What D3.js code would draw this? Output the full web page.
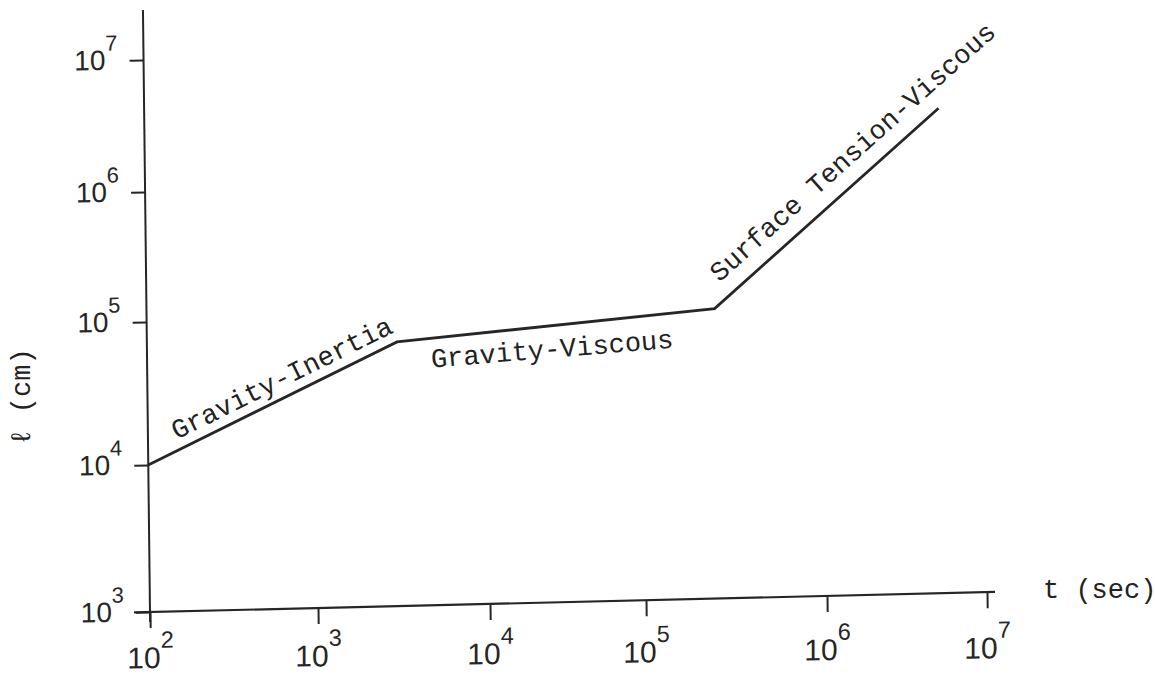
<!DOCTYPE html>
<html>
<head>
<meta charset="utf-8">
<script src="https://cdn.jsdelivr.net/npm/d3@7"></script>
<style>
    html, body { margin: 0; padding: 0; background: #fff; }
    .typed { font-family: 'Liberation Mono', 'DejaVu Sans Mono', monospace; fill: #222; }
</style>
</head>
<body>
<div id="container"></div>
<script>
// regime boundaries of the spreading curve, l(t)
const times = [1e2, 3e3, 2.5e5, 5.4e6];
const lengths = [1e4, 6.6e4, 1.0e5, 3.1e6];
const regimes = ['Gravity-Inertia', 'Gravity-Viscous', 'Surface Tension-Viscous'];

const tTicks = [1e2, 1e3, 1e4, 1e5, 1e6, 1e7];
const lTicks = [1e3, 1e4, 1e5, 1e6, 1e7];
const tTitle = 't (sec)';
const lTitle = 'ℓ (cm)';

const width = 1155;
const height = 677;

// decades are hand drawn and not evenly spaced, so the log scales are piecewise
const x = d3.scaleLog().domain(tTicks).range([150, 318, 490, 646, 827, 987]);
const y = d3.scaleLog().domain(lTicks).range([612, 465, 322, 192, 60]);

// the scanned sheet is a little sheared
const SKEW_X = 0.0117;
const SKEW_Y = -0.0237;
const ox = x(tTicks[0]);
const oy = y(lTicks[0]);
const toPx = p => [p[0] + SKEW_X * (p[1] - oy), p[1] + SKEW_Y * (p[0] - ox)];

const ink = '#262626';

let svg = d3.select('#container').append('svg')
    .attr('width', width)
    .attr('height', height)
    .attr('viewBox', `0 0 ${width} ${height}`);

svg.append('rect').attr('width', width).attr('height', height).attr('fill', '#fff');

let plot = svg.append('g')
    .attr('transform', `matrix(1,${SKEW_Y},${SKEW_X},1,${-oy * SKEW_X},${-ox * SKEW_Y})`);

function powerLabel(sel, size) {
    sel.each(function(d) {
        let t = d3.select(this).text('');
        t.append('tspan').text('10');
        t.append('tspan')
            .attr('font-size', size * 0.78)
            .attr('dy', -size * 0.68)
            .text(Math.round(Math.log10(d)));
    });
}

// axis lines
plot.append('line')
    .attr('x1', ox).attr('x2', ox)
    .attr('y1', oy + 10).attr('y2', y(1e7) - 50)
    .attr('stroke', ink).attr('stroke-width', 2);
plot.append('line')
    .attr('x1', ox - 16).attr('x2', x(1e7) + 8)
    .attr('y1', oy).attr('y2', oy)
    .attr('stroke', ink).attr('stroke-width', 2.2);

// y axis
let yAxis = plot.append('g')
    .attr('transform', `translate(${ox},0)`)
    .call(d3.axisLeft(y).tickValues(lTicks).tickSize(14).tickPadding(12));
yAxis.select('.domain').remove();
yAxis.selectAll('.tick line').attr('stroke', ink).attr('stroke-width', 2);
yAxis.attr('font-family', "'Liberation Sans', Arial, sans-serif").attr('font-size', 28);
yAxis.selectAll('.tick text').attr('fill', ink).attr('dy', '0.3em').call(powerLabel, 28);

// x axis ticks
let xAxis = plot.append('g')
    .attr('transform', `translate(0,${oy})`)
    .call(d3.axisBottom(x).tickValues(tTicks).tickSize(16).tickFormat(''));
xAxis.select('.domain').remove();
xAxis.selectAll('.tick line').attr('stroke', ink).attr('stroke-width', 2);

// x tick labels were typed with less shear than the drawn axis
let xLabels = svg.append('g')
    .attr('transform', `matrix(1,${SKEW_Y / 2},0,1,0,${-ox * SKEW_Y / 2}) translate(0,${oy})`)
    .call(d3.axisBottom(x).tickValues(tTicks).tickSize(0).tickPadding(35));
xLabels.select('.domain').remove();
xLabels.attr('font-family', "'Liberation Sans', Arial, sans-serif").attr('font-size', 30);
xLabels.selectAll('.tick text').attr('fill', ink).call(powerLabel, 30);

// the curve
let points = times.map((t, i) => [t, lengths[i]]);
let line = d3.line().x(d => x(d[0])).y(d => y(d[1]));

plot.append('path')
    .datum(points)
    .attr('d', line)
    .attr('fill', 'none')
    .attr('stroke', ink)
    .attr('stroke-width', 2.8)
    .attr('stroke-linejoin', 'miter');

// regime labels, placed along their segments
const labelPlace = [
    { frac: 0.57, offset: 10, tilt: 0 },
    { frac: 0.48, offset: -32, tilt: 1.3 },
    { frac: 0.69, offset: 16, tilt: 0 }
];

let labels = svg.append('g').attr('class', 'typed').attr('font-size', 27);

regimes.forEach((name, i) => {
    let p0 = toPx([x(times[i]), y(lengths[i])]);
    let p1 = toPx([x(times[i + 1]), y(lengths[i + 1])]);
    let a = Math.atan2(p1[1] - p0[1], p1[0] - p0[0]);
    let f = labelPlace[i];
    let mx = p0[0] + f.frac * (p1[0] - p0[0]) + f.offset * Math.sin(a);
    let my = p0[1] + f.frac * (p1[1] - p0[1]) - f.offset * Math.cos(a);
    labels.append('text')
        .attr('text-anchor', 'middle')
        .attr('transform', `translate(${mx},${my}) rotate(${a * 180 / Math.PI + f.tilt})`)
        .text(name);
});

// axis titles
let tEnd = toPx([x(1e7), oy]);
labels.append('text')
    .attr('x', tEnd[0] + 56)
    .attr('y', tEnd[1] + 6)
    .text(tTitle);

labels.append('text')
    .attr('text-anchor', 'middle')
    .attr('transform', 'translate(30,397) rotate(-90)')
    .text(lTitle);
</script>
</body>
</html>
